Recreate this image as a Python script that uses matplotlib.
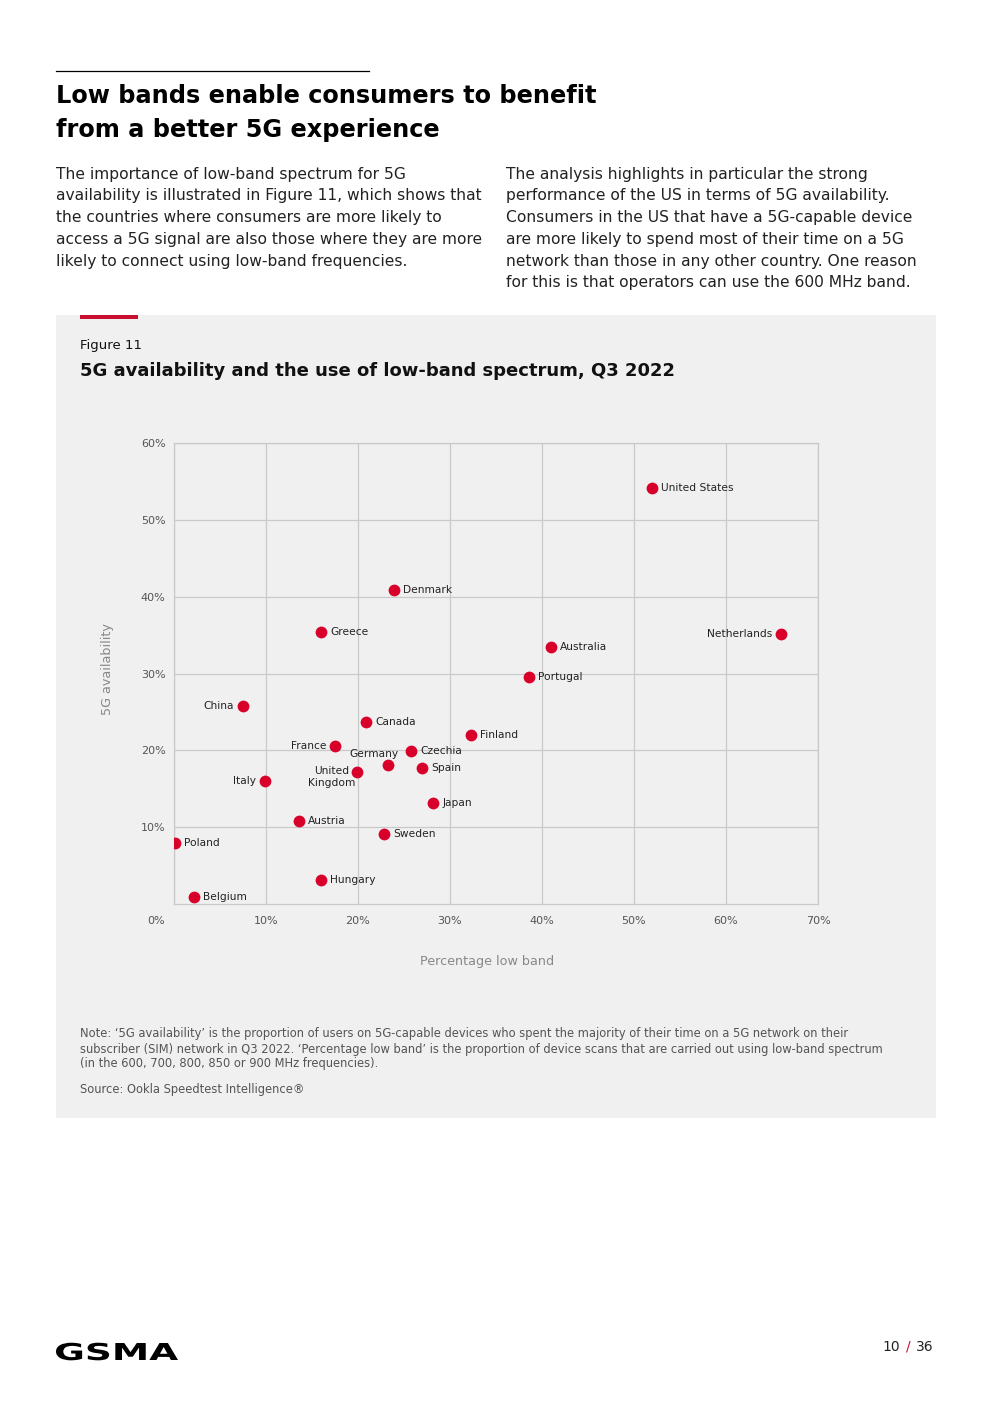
import matplotlib
matplotlib.use("Agg")
import matplotlib.pyplot as plt
import matplotlib.transforms as mtrans
from matplotlib.textpath import TextPath
from matplotlib.patches import PathPatch
from matplotlib.font_manager import FontProperties
from matplotlib.ticker import FuncFormatter

# ---------------- data ----------------
countries = ["United States", "Denmark", "Greece", "Netherlands", "Australia",
             "Portugal", "China", "Canada", "Finland", "France", "Czechia",
             "Germany", "Spain", "United\nKingdom", "Italy", "Japan", "Austria",
             "Sweden", "Poland", "Hungary", "Belgium"]
low_band = [52.0, 23.9, 16.0, 66.0, 41.0, 38.6, 7.5, 20.9, 32.3, 17.5, 25.8,
            23.3, 27.0, 19.9, 9.9, 28.2, 13.6, 22.8, 0.1, 16.0, 2.2]
availability = [54.1, 40.9, 35.4, 35.1, 33.4, 29.5, 25.8, 23.7, 22.0, 20.6, 19.9,
                18.1, 17.7, 17.2, 16.0, 13.1, 10.8, 9.1, 7.9, 3.1, 0.9]
x_ticks = [0, 10, 20, 30, 40, 50, 60, 70]
y_ticks = [10, 20, 30, 40, 50, 60]

left_labels = {"Netherlands", "China", "France", "Italy"}

FONT = "DejaVu Sans"
plt.rcParams['font.family'] = [FONT]

W, H = 992, 1403
fig = plt.figure(figsize=(W / 100, H / 100), dpi=100)
fig.patch.set_facecolor("white")

def fx(x):
    return x / W

def fy(y):
    return 1 - y / H

# top rule
fig.add_artist(plt.Line2D([fx(56), fx(369)], [fy(71), fy(71)], color="black", lw=0.9))

# heading
fig.text(fx(56), fy(96), "Low bands enable consumers to benefit", fontsize=17.3,
         fontweight="bold", va="center", ha="left", color="black")
fig.text(fx(56), fy(130), "from a better 5G experience", fontsize=17.3,
         fontweight="bold", va="center", ha="left", color="black")

left_par = ["The importance of low-band spectrum for 5G",
            "availability is illustrated in Figure 11, which shows that",
            "the countries where consumers are more likely to",
            "access a 5G signal are also those where they are more",
            "likely to connect using low-band frequencies."]
right_par = ["The analysis highlights in particular the strong",
             "performance of the US in terms of 5G availability.",
             "Consumers in the US that have a 5G-capable device",
             "are more likely to spend most of their time on a 5G",
             "network than those in any other country. One reason",
             "for this is that operators can use the 600 MHz band."]
for i, line in enumerate(left_par):
    fig.text(fx(56), fy(174 + 21.8 * i), line, fontsize=11.2, va="center", ha="left", color="#222222")
for i, line in enumerate(right_par):
    fig.text(fx(506), fy(174 + 21.8 * i), line, fontsize=11.2, va="center", ha="left", color="#222222")

# grey panel
fig.add_artist(plt.Rectangle((fx(56), fy(1118)), fx(936 - 56), (1118 - 315) / H,
                             facecolor="#f0f0f0", edgecolor="none", zorder=-5))
fig.add_artist(plt.Rectangle((fx(80), fy(319)), fx(138 - 80), 4 / H,
                             facecolor="#c8102e", edgecolor="none", zorder=-4))

fig.text(fx(80), fy(345), "Figure 11", fontsize=9.5, va="center", ha="left", color="#111111")
fig.text(fx(80), fy(371), "5G availability and the use of low-band spectrum, Q3 2022",
         fontsize=13.0, fontweight="bold", va="center", ha="left", color="#111111")

# axes
ax = fig.add_axes([fx(174), fy(904), fx(818 - 174), (904 - 443) / H])
ax.set_facecolor("#f0f0f0")
ax.set_xlim(0, 70)
ax.set_ylim(0, 60)
ax.set_xticks(x_ticks)
ax.set_yticks(y_ticks)
ax.xaxis.set_major_formatter(FuncFormatter(lambda v, p: f"{v:.0f}%"))
ax.yaxis.set_major_formatter(FuncFormatter(lambda v, p: f"{v:.0f}%"))
ax.grid(True, color="#c9c9c9", lw=0.9)
ax.set_axisbelow(True)
for s in ax.spines.values():
    s.set_color("#c9c9c9")
    s.set_linewidth(0.9)
ax.tick_params(length=0, labelsize=8, labelcolor="#555555")
ax.tick_params(axis="x", pad=9)
ax.tick_params(axis="y", pad=6)
lab0 = ax.get_xticklabels()[0]
lab0.set_transform(lab0.get_transform() + mtrans.ScaledTranslation(-18 / 100, 0, fig.dpi_scale_trans))

ax.set_xlabel("Percentage low band", fontsize=9.2, color="#888888")
ax.set_ylabel("5G availability", fontsize=9.2, color="#888888")
ax.xaxis.set_label_coords((487 - 174) / (818 - 174), -(962 - 904) / (904 - 443))
ax.yaxis.set_label_coords(-(174 - 108) / (818 - 174), (904 - 669) / (904 - 443))
ax.xaxis.label.set_va("center")
ax.yaxis.label.set_va("center")

ax.scatter(low_band, availability, s=72, color="#d8002a", zorder=3, linewidths=0)

for name, xv, yv in zip(countries, low_band, availability):
    kw = dict(fontsize=7.7, color="#222222", textcoords="offset pixels", va="center")
    if name == "Germany":
        ax.annotate(name, (xv, yv), xytext=(-14, 11), ha="center", **kw)
    elif name.startswith("United\n"):
        kw["va"] = "top"
        ax.annotate(name, (xv, yv), xytext=(-2, 6), ha="right", multialignment="center",
                    linespacing=1.3, **kw)
    elif name in left_labels:
        ax.annotate(name, (xv, yv), xytext=(-9, 0), ha="right", **kw)
    else:
        ax.annotate(name, (xv, yv), xytext=(9, 0), ha="left", **kw)

# notes
notes = ["Note: \u20185G availability\u2019 is the proportion of users on 5G-capable devices who spent the majority of their time on a 5G network on their",
         "subscriber (SIM) network in Q3 2022. \u2018Percentage low band\u2019 is the proportion of device scans that are carried out using low-band spectrum",
         "(in the 600, 700, 800, 850 or 900 MHz frequencies)."]
for i, line in enumerate(notes):
    fig.text(fx(80), fy(1034 + 15 * i), line, fontsize=8.3, va="center", ha="left", color="#555555")
fig.text(fx(80), fy(1090), "Source: Ookla Speedtest Intelligence\u00ae", fontsize=8.3,
         va="center", ha="left", color="#555555")

# footer: GSMA wordmark drawn as a stretched text path
tp = TextPath((0, 0), "GSMA", size=1, prop=FontProperties(family=FONT, weight="bold"))
bb = tp.get_extents()
sx = (178 - 56) / bb.width
sy = (1360 - 1343) / 0.73
trans = (mtrans.Affine2D().translate(-bb.x0, 0).scale(sx, sy)
         .translate(56, H - 1360) + mtrans.IdentityTransform())
patch = PathPatch(tp, facecolor="black", edgecolor="none",
                  transform=mtrans.Affine2D().translate(-bb.x0, 0).scale(sx, sy).translate(56, H - 1360)
                  + fig.dpi_scale_trans.inverted() + fig.dpi_scale_trans)
fig.add_artist(patch)

fig.text(fx(934), fy(1347), "36", fontsize=10, va="center", ha="right", color="#222222")
fig.text(fx(911), fy(1347), "/", fontsize=10, va="center", ha="right", color="#c8102e")
fig.text(fx(900), fy(1347), "10", fontsize=10, va="center", ha="right", color="#222222")

fig.savefig("out.png", dpi=100, facecolor="white")
